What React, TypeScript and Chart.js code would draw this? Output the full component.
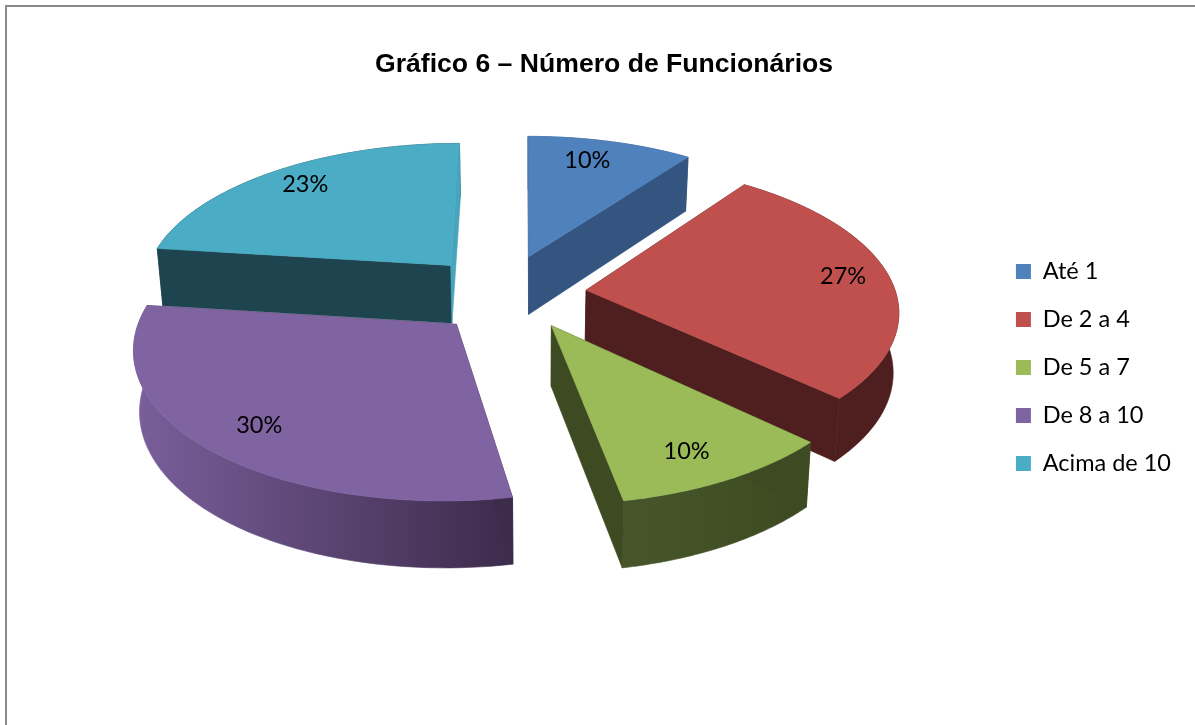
import React, { useEffect, useRef } from "react";
import { Chart, registerables } from "chart.js";

Chart.register(...registerables);

const chartTitle = "Gráfico 6 – Número de Funcionários";
const categories = ["Até 1", "De 2 a 4", "De 5 a 7", "De 8 a 10", "Acima de 10"];
const shares = [10, 27, 10, 30, 23];
const topColors = ["#4f81bd", "#c0504d", "#9bbb59", "#8064a2", "#4bacc6"];
const explode = [217, 217, 217, 217, 217];
const labelReach = [0.78, 0.82, 0.82, 0.8, 0.72];
const sliceNudgeX = [-3, -5, 4, 13, 1];
const sliceNudgeY = [2, 2, -3, 2, 3];
const labelNudgeX = [-7, 8, -7, -1, -16];
const labelNudgeY = [-4, -3, 3, 4, -12];

const startCutColors = ["#34557f", "#4e1f1e", "#3e4a22", "#3c2b4b", "#1d444f"];
const endCutColors = ["#34557f", "#4e1f1e", "#3e4a22", "#3c2b4b", "#47a4bc"];
const rimLeft = ["#34557f", "#4e1f1e", "#47562a", "#7a5f9b", "#1d444f"];
const rimRight = ["#34557f", "#4e1f1e", "#3d4a21", "#3c2b4b", "#1d444f"];

const view = { cx: 505, cy: 292, rx: 310, ry: 145, vanishX: 527, k: 0.13, depth: 60, depthShrink: 0.985 };

function project(u: number, v: number, down: boolean, i: number) {
  const s = (1 / (1 - view.k * v)) * (down ? view.depthShrink : 1);
  const X = view.cx + u * view.rx;
  return {
    x: view.vanishX + (X - view.vanishX) * s + sliceNudgeX[i],
    y: view.cy + v * view.ry * s + (down ? view.depth * s : 0) + sliceNudgeY[i],
  };
}

function poly(ctx: CanvasRenderingContext2D, pts: { x: number; y: number }[], fill: any) {
  ctx.beginPath();
  pts.forEach((p, i) => (i ? ctx.lineTo(p.x, p.y) : ctx.moveTo(p.x, p.y)));
  ctx.closePath();
  ctx.fillStyle = fill;
  ctx.strokeStyle = fill;
  ctx.lineWidth = 0.6;
  ctx.fill();
  ctx.stroke();
}

const pie3d = {
  id: "pie3d",
  beforeDatasetsDraw(chart: any) {
    const ctx: CanvasRenderingContext2D = chart.ctx;
    const arcs = chart.getDatasetMeta(0).data as any[];
    const slices = arcs.map((el, i) => {
      const mid = (el.startAngle + el.endAngle) / 2;
      const e = (el.options.offset || 0) / 4 / el.outerRadius;
      return { el, i, mid, ax: e * Math.cos(mid), ay: e * Math.sin(mid) };
    });
    const order = [...slices].sort((a, b) => Math.sin(a.mid) - Math.sin(b.mid));
    order.forEach(({ el, i, ax, ay }) => {
      const steps = 64;
      const rimPts: [number, number][] = [];
      for (let t = 0; t <= steps; t++) {
        const a = el.startAngle + ((el.endAngle - el.startAngle) * t) / steps;
        rimPts.push([ax + Math.cos(a), ay + Math.sin(a)]);
      }
      const first = rimPts[0];
      const last = rimPts[rimPts.length - 1];
      const cut = (p: [number, number]) => [
        project(ax, ay, false, i),
        project(p[0], p[1], false, i),
        project(p[0], p[1], true, i),
        project(ax, ay, true, i),
      ];
      const topRim = rimPts.map((p) => project(p[0], p[1], false, i));
      const lowRim = rimPts.map((p) => project(p[0], p[1], true, i)).reverse();
      const xs = topRim.map((p) => p.x);
      const grad = ctx.createLinearGradient(Math.min(...xs), 0, Math.max(...xs), 0);
      grad.addColorStop(0, rimLeft[i]);
      grad.addColorStop(1, rimRight[i]);
      poly(ctx, [...topRim, ...lowRim], grad);
      poly(ctx, cut(first), startCutColors[i]);
      poly(ctx, cut(last), endCutColors[i]);
      poly(ctx, [project(ax, ay, false, i), ...topRim], topColors[i]);
    });
    ctx.fillStyle = "#000";
    ctx.font = '23.5px Lato, "Open Sans", sans-serif';
    ctx.textAlign = "center";
    ctx.textBaseline = "middle";
    slices.forEach(({ i, mid, ax, ay }) => {
      const p = project(ax + labelReach[i] * Math.cos(mid), ay + labelReach[i] * Math.sin(mid), false, i);
      ctx.fillText(`${shares[i]}%`, p.x + labelNudgeX[i], p.y + labelNudgeY[i]);
    });
    return false;
  },
};

export default function App() {
  const ref = useRef<HTMLCanvasElement>(null);
  useEffect(() => {
    document.body.style.margin = "0";
    document.body.style.overflow = "hidden";
    const chart = new Chart(ref.current!, {
      type: "pie",
      data: {
        labels: categories,
        datasets: [{ data: shares, backgroundColor: topColors, offset: explode, borderWidth: 0 }],
      },
      options: {
        responsive: false,
        animation: false,
        events: [],
        layout: { padding: { left: 27, right: 14, top: 10, bottom: 0 } },
        plugins: {
          title: {
            display: true,
            text: chartTitle,
            color: "#000",
            font: { family: '"Liberation Sans", Arial, sans-serif', size: 26.6, weight: "bold" },
            padding: { top: 39, bottom: 39 },
          },
          legend: {
            position: "right",
            labels: {
              color: "#000",
              boxWidth: 15,
              boxHeight: 15,
              padding: 24.5,
              font: { family: 'Lato, "Open Sans", sans-serif', size: 23.5 },
            },
          },
          tooltip: { enabled: false },
        },
      },
      plugins: [pie3d],
    } as any);
    return () => chart.destroy();
  }, []);
  return (
    <div style={{ position: "relative", width: 1195, height: 725, overflow: "hidden", background: "#fff" }}>
      <div
        style={{
          position: "absolute",
          left: 5,
          top: 5,
          right: -5,
          bottom: -5,
          borderTop: "2px solid #8a8a8a",
          borderLeft: "2px solid #8a8a8a",
        }}
      />
      <canvas ref={ref} width={1195} height={725} style={{ position: "absolute", left: 0, top: 0, display: "block" }} />
    </div>
  );
}
